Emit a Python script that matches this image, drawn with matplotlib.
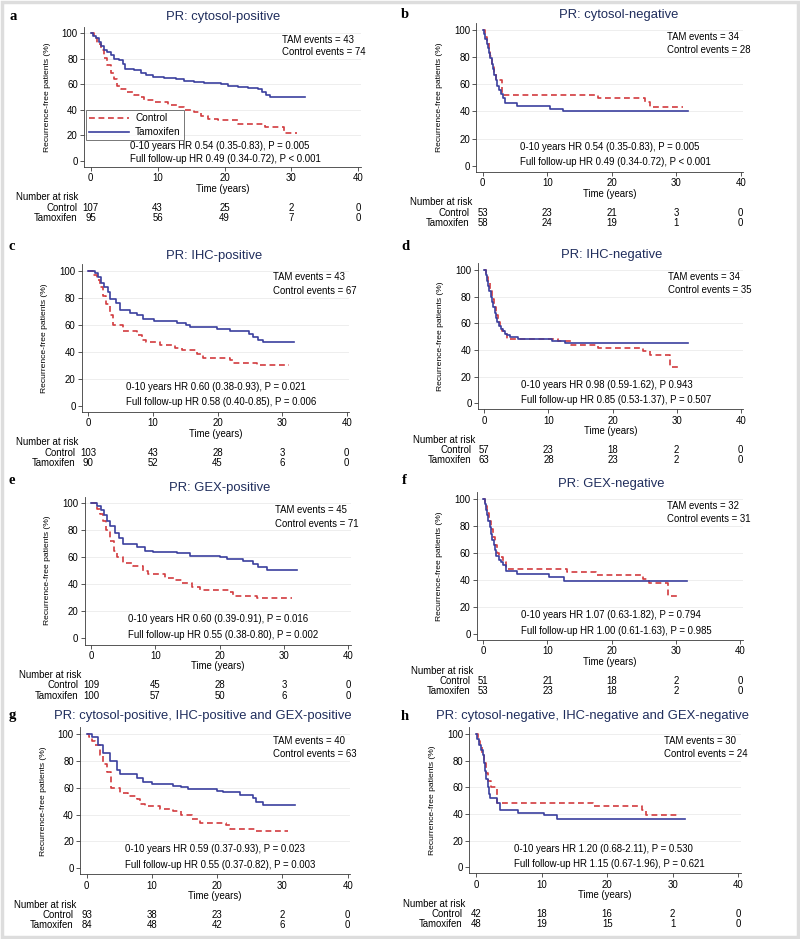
import matplotlib
matplotlib.use("Agg")
import matplotlib.pyplot as plt
import matplotlib.transforms as mtransforms
from matplotlib.patches import Rectangle
from matplotlib.lines import Line2D

plt.rcParams['font.family'] = ['Liberation Sans', 'DejaVu Sans']

# ---- data (time in years, % recurrence-free) ----
a_ctl_t = [0, 0.5, 1.0, 1.5, 2.0, 2.5, 3.0, 3.5, 4.0, 4.5, 5.5, 6.5, 7.5, 8.0, 9.5, 11.5, 13, 14, 15.5, 16.5, 17.5, 19, 22, 26, 28.9, 30.8]
a_ctl_s = [100, 96, 92, 87, 81, 75, 69, 64, 59, 56, 54, 52, 50, 48, 46, 44, 42, 40, 38, 35, 33, 32, 29, 27, 22, 22]
a_tam_t = [0, 0.4, 0.8, 1.2, 1.6, 2.0, 2.5, 3.0, 3.5, 4.3, 4.8, 5.2, 6.5, 7.5, 8.3, 9.3, 11, 12.8, 14, 15.5, 17, 19.5, 20.5, 22, 23.5, 25, 25.6, 26.2, 26.8, 32]
a_tam_s = [100, 98, 96, 93, 90, 87, 85, 83, 80, 79, 76, 72, 71, 69, 67, 66, 65, 64, 63, 62, 61, 60, 59, 58, 57, 56, 54, 52, 50, 50]

b_ctl_t = [0, 0.3, 0.6, 0.9, 1.2, 1.5, 1.8, 2.1, 3.0, 17.8, 25.2, 25.9, 31]
b_ctl_s = [100, 95, 91, 86, 81, 75, 69, 63, 52, 50, 47, 43, 43]
b_tam_t = [0, 0.2, 0.4, 0.6, 0.8, 1.0, 1.2, 1.4, 1.6, 1.8, 2.0, 2.2, 2.5, 2.8, 3.1, 3.4, 5.3, 10.4, 12.5, 31.9]
b_tam_s = [100, 97, 93, 90, 87, 83, 79, 75, 71, 67, 63, 59, 56, 53, 50, 46, 44, 42, 40, 40]

c_ctl_t = [0, 0.8, 1.3, 1.8, 2.3, 2.8, 3.3, 3.9, 5.4, 7.5, 8.3, 9.0, 11.1, 13.4, 14.5, 16.8, 17.8, 21.9, 22.4, 26.1, 31.1]
c_ctl_s = [100, 97, 93, 88, 81, 75, 67, 60, 55, 52, 49, 47, 45, 43, 41, 38, 35.5, 34, 31.5, 30, 30]
c_tam_t = [0, 1.0, 1.5, 2.0, 2.5, 3.0, 3.4, 4.3, 4.9, 6.5, 7.5, 8.5, 10.1, 13.7, 15.2, 15.7, 19.9, 20.6, 21.9, 24.8, 25.5, 26.3, 27.1, 31.9]
c_tam_s = [100, 98, 95, 91, 88, 84, 79, 76, 71, 69, 67, 64, 63, 61.5, 60, 58, 57, 56.5, 55.5, 53, 51, 49, 47.5, 47.5]

d_ctl_t = [0, 0.3, 0.6, 0.9, 1.2, 1.5, 1.8, 2.1, 2.4, 2.8, 3.2, 3.5, 11.5, 13.6, 17.8, 24.8, 25.8, 29.0, 30.5]
d_ctl_s = [100, 95, 90, 84, 78, 72, 66, 61, 57, 54, 52, 48, 46.5, 44, 41.5, 39, 36, 27, 27]
d_tam_t = [0, 0.2, 0.4, 0.6, 0.8, 1.0, 1.2, 1.4, 1.6, 1.8, 2.0, 2.3, 2.6, 2.9, 3.2, 3.6, 4.0, 5.2, 10.5, 12.6, 31.8]
d_tam_s = [100, 96, 92, 88, 84, 80, 76, 72, 68, 64, 61, 58, 56, 54, 52, 51, 50, 48.5, 46.5, 45, 45]

e_ctl_t = [0, 0.9, 1.4, 1.9, 2.4, 3.0, 3.5, 4.0, 5.0, 6.6, 8.1, 8.9, 11.5, 13.1, 14.1, 15.7, 17.0, 21.6, 22.1, 25.8, 31.2]
e_ctl_s = [100, 96, 92, 87, 80, 72, 65, 60, 56, 53.5, 50, 47.5, 44.5, 43, 41, 38, 35.5, 34, 31.5, 30, 30]
e_tam_t = [0, 1.0, 1.5, 2.0, 2.5, 3.0, 3.7, 4.4, 5.0, 7.1, 8.4, 9.7, 13.3, 15.4, 20.1, 21.1, 23.7, 25.2, 26.0, 27.3, 32.1]
e_tam_s = [100, 98, 95, 91, 87, 83, 78, 74, 70, 68, 65, 64, 63, 61, 60, 58.5, 57, 55, 52.5, 50.3, 50.3]

f_ctl_t = [0, 0.3, 0.6, 0.9, 1.2, 1.5, 1.8, 2.1, 2.5, 3.0, 3.6, 13.1, 17.6, 24.9, 25.8, 28.8, 30.3]
f_ctl_s = [100, 95, 90, 84, 78, 72, 66, 60, 57, 53, 48, 46, 44, 41, 38, 28, 28]
f_tam_t = [0, 0.2, 0.4, 0.6, 0.8, 1.0, 1.2, 1.4, 1.6, 1.8, 2.0, 2.4, 2.8, 3.1, 3.6, 5.3, 10.3, 12.6, 31.8]
f_tam_s = [100, 96, 92, 88, 84, 79, 74, 70, 66, 62, 58, 55, 53, 51, 47, 44.5, 42.5, 39, 39]

g_ctl_t = [0, 0.3, 0.8, 1.3, 2.0, 2.5, 3.1, 3.8, 5.1, 6.4, 7.7, 8.2, 8.9, 11.2, 13.3, 14.5, 16.1, 17.4, 21.4, 21.9, 26.0, 30.8]
g_ctl_s = [100, 98, 95, 92, 84, 78, 72, 60, 56, 53.5, 51.5, 48, 46.5, 44.5, 42.5, 40, 37, 33.5, 32, 29, 27.5, 27.5]
g_tam_t = [0, 0.8, 1.8, 2.5, 3.6, 4.6, 5.1, 7.7, 8.7, 10.0, 13.3, 14.5, 15.6, 19.9, 20.9, 23.5, 25.5, 26.0, 27.0, 31.9]
g_tam_s = [100, 98, 92, 86, 80, 73, 70.5, 67.5, 64, 63, 61.5, 60.5, 59, 57.5, 56.5, 54.5, 52, 49.5, 47.5, 47.5]

h_ctl_t = [0, 0.3, 0.6, 0.9, 1.2, 1.5, 1.8, 2.3, 3.2, 17.9, 25.3, 26.0, 30.6]
h_ctl_s = [100, 95, 90, 84, 78, 71, 65, 60, 48.5, 46, 43, 39, 39]
h_tam_t = [0, 0.2, 0.5, 0.8, 1.0, 1.2, 1.4, 1.6, 1.8, 2.0, 2.2, 3.2, 3.7, 6.4, 10.3, 12.3, 31.9]
h_tam_s = [100, 96, 92, 88, 84, 78, 72, 66, 60, 55, 52, 48, 43, 41, 39, 36.5, 36.5]

letters = ['a', 'b', 'c', 'd', 'e', 'f', 'g', 'h']
titles = ['PR: cytosol-positive', 'PR: cytosol-negative',
          'PR: IHC-positive', 'PR: IHC-negative',
          'PR: GEX-positive', 'PR: GEX-negative',
          'PR: cytosol-positive, IHC-positive and GEX-positive',
          'PR: cytosol-negative, IHC-negative and GEX-negative']
tam_events = [43, 34, 43, 34, 45, 32, 40, 30]
ctl_events = [74, 28, 67, 35, 71, 31, 63, 24]
hr_10y = ['0-10 years HR 0.54 (0.35-0.83), P = 0.005',
          '0-10 years HR 0.54 (0.35-0.83), P = 0.005',
          '0-10 years HR 0.60 (0.38-0.93), P = 0.021',
          '0-10 years HR 0.98 (0.59-1.62), P 0.943',
          '0-10 years HR 0.60 (0.39-0.91), P = 0.016',
          '0-10 years HR 1.07 (0.63-1.82), P = 0.794',
          '0-10 years HR 0.59 (0.37-0.93), P = 0.023',
          '0-10 years HR 1.20 (0.68-2.11), P = 0.530']
hr_full = ['Full follow-up HR 0.49 (0.34-0.72), P < 0.001',
           'Full follow-up HR 0.49 (0.34-0.72), P < 0.001',
           'Full follow-up HR 0.58 (0.40-0.85), P = 0.006',
           'Full follow-up HR 0.85 (0.53-1.37), P = 0.507',
           'Full follow-up HR 0.55 (0.38-0.80), P = 0.002',
           'Full follow-up HR 1.00 (0.61-1.63), P = 0.985',
           'Full follow-up HR 0.55 (0.37-0.82), P = 0.003',
           'Full follow-up HR 1.15 (0.67-1.96), P = 0.621']
risk_times = [0, 10, 20, 30, 40]
risk_ctl = [[107, 43, 25, 2, 0], [53, 23, 21, 3, 0], [103, 43, 28, 3, 0], [57, 23, 18, 2, 0],
            [109, 45, 28, 3, 0], [51, 21, 18, 2, 0], [93, 38, 23, 2, 0], [42, 18, 16, 2, 0]]
risk_tam = [[95, 56, 49, 7, 0], [58, 24, 19, 1, 0], [90, 52, 45, 6, 0], [63, 28, 23, 2, 0],
            [100, 57, 50, 6, 0], [53, 23, 18, 2, 0], [84, 48, 42, 6, 0], [48, 19, 15, 1, 0]]

curves = [(a_ctl_t, a_ctl_s, a_tam_t, a_tam_s), (b_ctl_t, b_ctl_s, b_tam_t, b_tam_s),
          (c_ctl_t, c_ctl_s, c_tam_t, c_tam_s), (d_ctl_t, d_ctl_s, d_tam_t, d_tam_s),
          (e_ctl_t, e_ctl_s, e_tam_t, e_tam_s), (f_ctl_t, f_ctl_s, f_tam_t, f_tam_s),
          (g_ctl_t, g_ctl_s, g_tam_t, g_tam_s), (h_ctl_t, h_ctl_s, h_tam_t, h_tam_s)]

# ---- layout in pixels: x of t=0, x of t=40, y of 0%, y of 100%, title centre x/y, letter x/y
layout = [
    (90.7, 358.3, 161.0, 33.3, 223, 17, 13, 17),
    (482.7, 740.7, 165.7, 30.0, 619, 15, 405, 15),
    (88.3, 346.7, 405.7, 270.7, 214, 256, 12, 246),
    (484.3, 740.7, 403.3, 270.0, 612, 255, 405, 246),
    (91.0, 348.3, 638.3, 503.3, 220, 488, 12, 480),
    (483.3, 740.0, 634.0, 499.0, 611, 484, 404, 480),
    (86.7, 347.7, 868.3, 734.0, 203, 716, 12, 716),
    (476.0, 738.3, 867.3, 734.0, 592, 716, 405, 716),
]

W, H = 800, 939
RED = '#d23b3e'
BLUE = '#3b3f9e'
NAVY = '#1f2d5c'
AX = '#3a3a3a'
FS = 6.9

fig = plt.figure(figsize=(W / 100, H / 100), dpi=100)
fig.patches.append(Rectangle((0.002, 0.002), 0.996, 0.996, transform=fig.transFigure,
                             fill=False, edgecolor='#dddddd', lw=2.5))

XMIN, XMAX = -1.0, 40.4
YMIN, YMAX = -4.6, 105

for i in range(8):
    x0, x40, y0, y100, tx, ty, lx, ly = layout[i]
    sx = (x40 - x0) / 40.0
    sy = (y0 - y100) / 100.0
    left = x0 + XMIN * sx
    right = x0 + XMAX * sx
    bottom = y0 - YMIN * sy
    top = y0 - YMAX * sy
    ax = fig.add_axes([left / W, 1 - bottom / H, (right - left) / W, (bottom - top) / H])
    ax.set_xlim(XMIN, XMAX)
    ax.set_ylim(YMIN, YMAX)
    for side in ['top', 'right']:
        ax.spines[side].set_visible(False)
    for side in ['left', 'bottom']:
        ax.spines[side].set_color(AX)
        ax.spines[side].set_linewidth(0.6)
    ax.set_xticks([0, 10, 20, 30, 40])
    ax.set_yticks([0, 20, 40, 60, 80, 100])
    ax.tick_params(length=3, width=0.6, color=AX, labelsize=FS, pad=1.5)
    for g in [20, 40, 60, 80, 100]:
        ax.axhline(g, color='#ebebeb', lw=0.6, zorder=0)
    ax.set_ylabel('Recurrence-free patients (%)', fontsize=6.1, labelpad=8)
    ax.set_xlabel('Time (years)', fontsize=FS, labelpad=0.5)

    ct, cs, tt, ts = curves[i]
    ax.step(ct, cs, where='post', color=RED, lw=1.2, ls=(0, (3.5, 2.2)), label='Control', zorder=3)
    ax.step(tt, ts, where='post', color=BLUE, lw=1.2, label='Tamoxifen', zorder=4)

    ax.text(28.6, 95, 'TAM events = %d' % tam_events[i], fontsize=FS, va='center')
    ax.text(28.6, 85, 'Control events = %d' % ctl_events[i], fontsize=FS, va='center')
    hy1, hy2 = (11.8, 1.6) if i == 0 else (14, 2.5)
    ax.text(5.8, hy1, hr_10y[i], fontsize=FS, va='center')
    ax.text(5.8, hy2, hr_full[i], fontsize=FS, va='center')

    fig.text(tx / W, 1 - ty / H, titles[i], fontsize=9.4, color=NAVY, ha='center', va='center')
    fig.text(lx / W, 1 - ly / H, letters[i], fontsize=10.5, fontweight='bold',
             family='Liberation Serif', ha='center', va='center')

    # number at risk table below the axis
    trans = mtransforms.blended_transform_factory(ax.transData, fig.transFigure)
    yb = bottom
    ax.text(-11.2, 1 - (yb + 30.5) / H, 'Number at risk', fontsize=FS, transform=trans,
            ha='left', va='center', clip_on=False)
    ax.text(-2.0, 1 - (yb + 40.8) / H, 'Control', fontsize=FS, transform=trans,
            ha='right', va='center', clip_on=False)
    ax.text(-2.0, 1 - (yb + 51.0) / H, 'Tamoxifen', fontsize=FS, transform=trans,
            ha='right', va='center', clip_on=False)
    for t, n1, n2 in zip(risk_times, risk_ctl[i], risk_tam[i]):
        ax.text(t, 1 - (yb + 40.8) / H, str(n1), fontsize=FS, transform=trans,
                ha='center', va='center', clip_on=False)
        ax.text(t, 1 - (yb + 51.0) / H, str(n2), fontsize=FS, transform=trans,
                ha='center', va='center', clip_on=False)

    if i == 0:
        handles = [Line2D([], [], color=RED, lw=1.2, ls=(0, (3.5, 2.2))),
                   Line2D([], [], color=BLUE, lw=1.2)]
        leg = ax.legend(handles, ['Control', 'Tamoxifen'], loc='upper left',
                        bbox_to_anchor=(86 / W, 1 - 110 / H), bbox_transform=fig.transFigure,
                        fontsize=FS + 0.3, frameon=True, fancybox=False, handlelength=4.0,
                        borderpad=0.3, labelspacing=0.4, handletextpad=0.6, borderaxespad=0)
        leg.get_frame().set_edgecolor('#555555')
        leg.get_frame().set_linewidth(0.7)
        leg.set_zorder(5)

fig.savefig('out.png', dpi=100, facecolor='white')
